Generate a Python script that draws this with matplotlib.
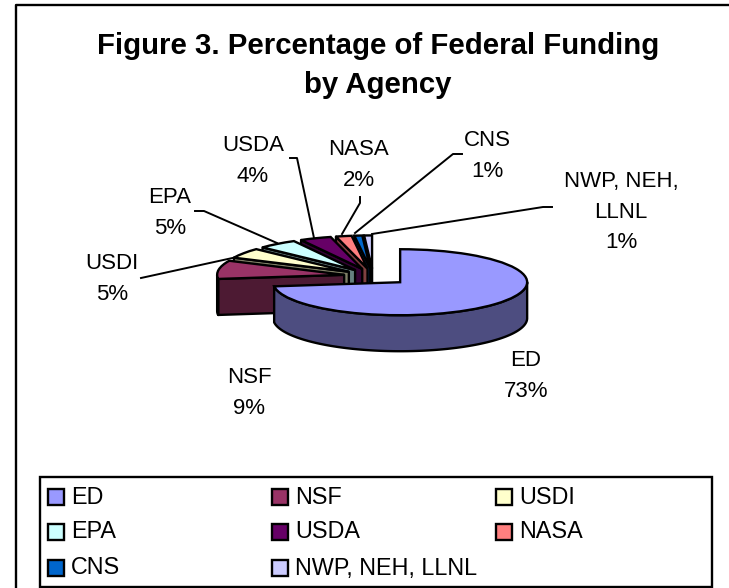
import numpy as np
import matplotlib
matplotlib.use("Agg")
import matplotlib.pyplot as plt
from matplotlib.patches import Polygon, Rectangle

plt.rcParams['font.family'] = ['Liberation Sans', 'DejaVu Sans']

agencies = ["ED", "NSF", "USDI", "EPA", "USDA", "NASA", "CNS", "NWP, NEH, LLNL"]
shares = [73, 9, 5, 5, 4, 2, 1, 1]
top_colors = ["#9999FF", "#993366", "#FFFFCC", "#CCFFFF", "#660066", "#FF8080", "#0066CC", "#CCCCFF"]
side_colors = ["#4D4D80", "#4D1A33", "#808066", "#668080", "#330033", "#804040", "#003366", "#666680"]
title_text = "Figure 3. Percentage of Federal Funding\nby Agency"
slice_labels = ["ED\n73%", "NSF\n9%", "USDI\n5%", "EPA\n5%", "USDA\n4%", "NASA\n2%", "CNS\n1%", "NWP, NEH,\nLLNL\n1%"]
label_xy = [(526, 376), (249, 393), (112, 279), (170, 213), (253, 161), (359, 165), (487, 156), (621, 212)]
leaders = [None, None,
           [(141, 278), (237, 257)],
           [(195, 211), (204, 211), (277, 243)],
           [(290, 158), (297, 158), (314, 238)],
           [(360, 197), (360, 203), (342, 234)],
           [(462, 154), (453, 154), (355, 233)],
           [(552, 207), (543, 207), (372, 234)]]
explode = [0.285, 0.23, 0.23, 0.23, 0.23, 0.23, 0.23, 0.23]

W, H = 729, 588
CX, CY = 373, 276      # pie centre, pixels
RX, RY = 127, 33       # pixels per pie unit
DEPTH = 36 / RY
LW = 1.7

fig = plt.figure(figsize=(W / 100, H / 100), dpi=100)
fig.patch.set_facecolor("white")

ax = fig.add_axes([0, 0, 1, 1])
wedges, _ = ax.pie(shares, explode=explode, colors=top_colors, startangle=90, counterclock=False,
                   wedgeprops=dict(edgecolor="black", linewidth=LW))
ax.set_aspect("auto")
ax.set_xlim(-CX / RX, (W - CX) / RX)
ax.set_ylim(-(H - CY) / RY, CY / RY)
ax.axis("off")

# painter's order: back slice first, ED last
order = [7, 6, 5, 4, 3, 2, 1, 0]
for z, i in enumerate(order):
    w = wedges[i]
    cx, cy = w.center
    base = 10 * (z + 1)
    if i != 0:
        t = np.deg2rad(w.theta2)
        p = (cx + w.r * np.cos(t), cy + w.r * np.sin(t))
        ax.add_patch(Polygon([(cx, cy), p, (p[0], p[1] - DEPTH), (cx, cy - DEPTH)], closed=True,
                             facecolor=side_colors[i], edgecolor="black", linewidth=LW,
                             joinstyle="round", zorder=base))
    lo, hi = max(w.theta1, -180), min(w.theta2, 0)
    if hi > lo:
        th = np.deg2rad(np.linspace(lo, hi, 200))
        xs = cx + w.r * np.cos(th)
        ys = cy + w.r * np.sin(th)
        pts = np.r_[np.c_[xs, ys], np.c_[xs[::-1], ys[::-1] - DEPTH]]
        ax.add_patch(Polygon(pts, closed=True, facecolor=side_colors[i], edgecolor="black",
                             linewidth=LW, joinstyle="round", zorder=base + 1))
    w.set_zorder(base + 2)

# overlay in pixel coordinates for frame, labels and legend
ov = fig.add_axes([0, 0, 1, 1], facecolor="none")
ov.set_xlim(0, W)
ov.set_ylim(H, 0)
ov.axis("off")

ov.add_line(plt.Line2D([16, 16, W + 5], [H + 5, 5, 5], color="black", lw=LW))
ov.text(378, 65.5, title_text, ha="center", va="center", fontsize=21.2, fontweight="bold",
        linespacing=1.5)

for lab, (x, y), ld in zip(slice_labels, label_xy, leaders):
    ov.text(x, y, lab, ha="center", va="center", fontsize=16, linespacing=1.6)
    if ld:
        ov.plot([p[0] for p in ld], [p[1] for p in ld], color="black", lw=1.4)

ov.add_patch(Rectangle((40, 477), 672, 110, facecolor="white", edgecolor="black", linewidth=LW))
col_x = [48, 272, 496]
row_y = [489, 524, 560]
for i, name in enumerate(agencies):
    r, c = divmod(i, 3)
    ov.add_patch(Rectangle((col_x[c], row_y[r]), 16, 16, facecolor=top_colors[i], edgecolor="black",
                           linewidth=LW))
    ov.text(col_x[c] + 23, row_y[r] + 8, name, ha="left", va="center", fontsize=16.8)

fig.savefig("out.png", dpi=100)
